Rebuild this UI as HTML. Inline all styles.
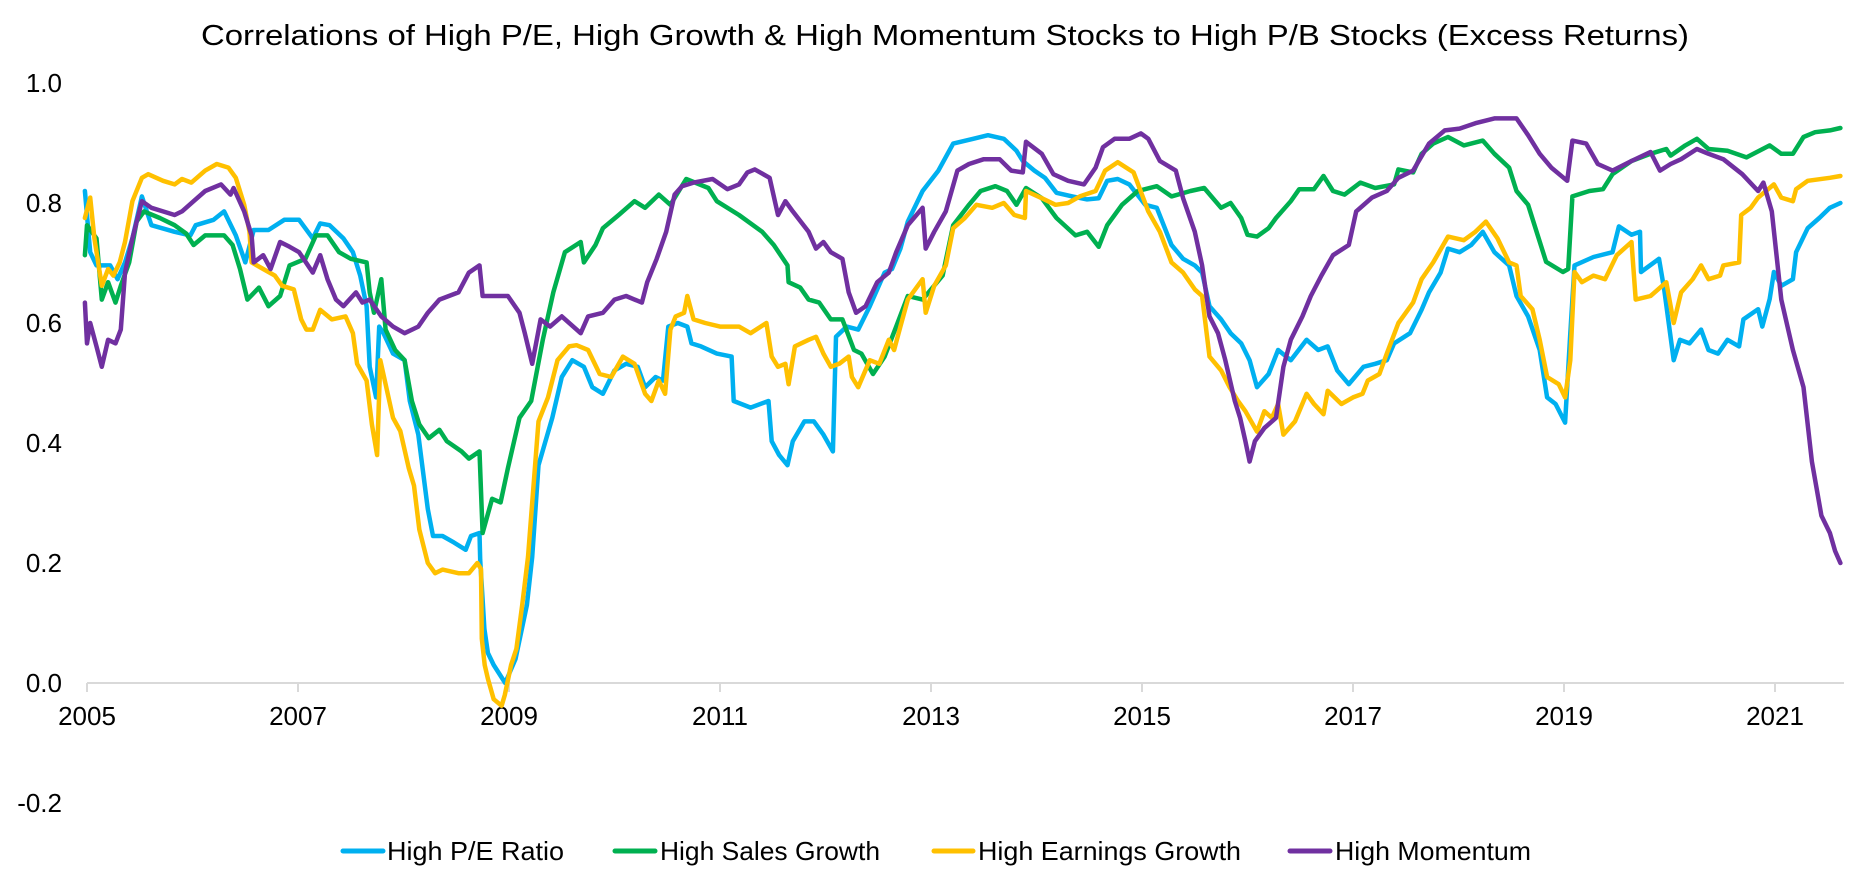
<!DOCTYPE html>
<html>
<head>
<meta charset="utf-8">
<style>
  html,body{margin:0;padding:0;background:#fff;}
  #chart{display:block;}
  text{font-family:"Liberation Sans",Arial,sans-serif;fill:#000;}
</style>
</head>
<body>
<svg id="chart" width="1867" height="886" viewBox="0 0 1867 886" xmlns="http://www.w3.org/2000/svg">
  <rect x="0" y="0" width="1867" height="886" fill="#fff"/>
  <text x="945" y="45" font-size="29" text-anchor="middle" textLength="1488" lengthAdjust="spacingAndGlyphs">Correlations of High P/E, High Growth &amp; High Momentum Stocks to High P/B Stocks (Excess Returns)</text>
  <g id="yaxis"></g>
  <g id="xaxis"></g>
  <g id="series"></g>
  <g id="legend">
    <line x1="343" y1="851" x2="383" y2="851" stroke="#00b0f0" stroke-width="5" stroke-linecap="round"/>
    <text x="387" y="860" font-size="26" textLength="177" lengthAdjust="spacingAndGlyphs">High P/E Ratio</text>
    <line x1="615" y1="851" x2="655" y2="851" stroke="#00b050" stroke-width="5" stroke-linecap="round"/>
    <text x="660" y="860" font-size="26" textLength="220" lengthAdjust="spacingAndGlyphs">High Sales Growth</text>
    <line x1="934" y1="851" x2="973" y2="851" stroke="#ffc000" stroke-width="5" stroke-linecap="round"/>
    <text x="978" y="860" font-size="26" textLength="263" lengthAdjust="spacingAndGlyphs">High Earnings Growth</text>
    <line x1="1290" y1="851" x2="1330" y2="851" stroke="#7030a0" stroke-width="5" stroke-linecap="round"/>
    <text x="1335" y="860" font-size="26" textLength="196" lengthAdjust="spacingAndGlyphs">High Momentum</text>
  </g>
</svg>
<script>
const yTicks = [-0.2, 0.0, 0.2, 0.4, 0.6, 0.8, 1.0];
const yTickLabels = ["-0.2", "0.0", "0.2", "0.4", "0.6", "0.8", "1.0"];
const xTicks = [2005, 2007, 2009, 2011, 2013, 2015, 2017, 2019, 2021];
const xTickLabels = ["2005", "2007", "2009", "2011", "2013", "2015", "2017", "2019", "2021"];

const peT = [2004.98,2005.03,2005.09,2005.22,2005.29,2005.36,2005.43,2005.52,2005.61,2005.83,2005.98,2006.03,2006.20,2006.30,2006.41,2006.50,2006.58,2006.72,2006.87,2007.01,2007.14,2007.21,2007.30,2007.43,2007.52,2007.59,2007.65,2007.68,2007.74,2007.77,2007.81,2007.90,2008.01,2008.06,2008.14,2008.23,2008.28,2008.37,2008.48,2008.59,2008.64,2008.72,2008.727,2008.767,2008.80,2008.855,2008.964,2009.062,2009.17,2009.22,2009.28,2009.41,2009.50,2009.60,2009.71,2009.79,2009.89,2010.00,2010.11,2010.22,2010.29,2010.39,2010.46,2010.51,2010.60,2010.69,2010.73,2010.82,2010.97,2011.11,2011.13,2011.29,2011.46,2011.49,2011.56,2011.64,2011.69,2011.80,2011.89,2011.98,2012.07,2012.10,2012.20,2012.31,2012.42,2012.56,2012.63,2012.71,2012.78,2012.92,2013.07,2013.21,2013.40,2013.54,2013.69,2013.81,2013.87,2013.98,2014.08,2014.19,2014.34,2014.48,2014.59,2014.67,2014.77,2014.88,2015.03,2015.14,2015.28,2015.39,2015.50,2015.57,2015.64,2015.75,2015.84,2015.94,2016.02,2016.09,2016.20,2016.29,2016.41,2016.56,2016.67,2016.76,2016.85,2016.96,2017.10,2017.21,2017.32,2017.39,2017.54,2017.65,2017.72,2017.83,2017.90,2018.01,2018.12,2018.23,2018.34,2018.48,2018.55,2018.66,2018.77,2018.84,2018.92,2019.01,2019.06,2019.10,2019.28,2019.46,2019.52,2019.64,2019.72,2019.73,2019.90,2019.95,2020.04,2020.10,2020.19,2020.30,2020.37,2020.46,2020.55,2020.66,2020.70,2020.84,2020.88,2020.95,2020.99,2021.06,2021.17,2021.20,2021.31,2021.42,2021.52,2021.62];
const peV = [0.82,0.718,0.696,0.696,0.673,0.701,0.741,0.811,0.763,0.752,0.746,0.763,0.772,0.786,0.746,0.701,0.755,0.755,0.772,0.772,0.741,0.766,0.763,0.741,0.718,0.679,0.628,0.527,0.476,0.594,0.583,0.549,0.538,0.470,0.414,0.290,0.245,0.245,0.234,0.222,0.245,0.250,0.205,0.09,0.05,0.03,0.0,0.04,0.13,0.21,0.363,0.442,0.510,0.538,0.527,0.493,0.482,0.521,0.532,0.527,0.493,0.510,0.504,0.594,0.600,0.594,0.566,0.561,0.549,0.544,0.470,0.459,0.470,0.403,0.380,0.363,0.403,0.436,0.436,0.414,0.386,0.577,0.594,0.589,0.628,0.684,0.690,0.724,0.769,0.820,0.854,0.899,0.907,0.913,0.907,0.887,0.870,0.854,0.842,0.817,0.811,0.806,0.808,0.837,0.840,0.831,0.797,0.792,0.730,0.707,0.696,0.684,0.628,0.606,0.583,0.566,0.538,0.493,0.515,0.555,0.538,0.572,0.555,0.561,0.521,0.498,0.527,0.532,0.538,0.566,0.583,0.622,0.651,0.684,0.724,0.718,0.730,0.752,0.718,0.696,0.645,0.611,0.555,0.476,0.465,0.434,0.583,0.696,0.710,0.718,0.761,0.747,0.752,0.685,0.707,0.656,0.538,0.572,0.566,0.589,0.555,0.549,0.572,0.561,0.606,0.623,0.594,0.640,0.685,0.662,0.673,0.718,0.758,0.775,0.792,0.80];

const salesT = [2004.98,2005.00,2005.09,2005.14,2005.20,2005.27,2005.32,2005.40,2005.47,2005.54,2005.69,2005.83,2005.94,2006.01,2006.12,2006.30,2006.38,2006.45,2006.52,2006.63,2006.72,2006.83,2006.92,2007.07,2007.17,2007.28,2007.39,2007.50,2007.65,2007.68,2007.72,2007.79,2007.83,2007.92,2008.01,2008.08,2008.15,2008.24,2008.34,2008.41,2008.55,2008.62,2008.72,2008.75,2008.84,2008.92,2008.99,2009.10,2009.21,2009.32,2009.42,2009.53,2009.68,2009.71,2009.82,2009.89,2010.04,2010.19,2010.29,2010.42,2010.53,2010.68,2010.89,2010.97,2011.18,2011.40,2011.51,2011.64,2011.65,2011.76,2011.84,2011.94,2012.05,2012.16,2012.27,2012.34,2012.45,2012.56,2012.67,2012.78,2012.92,2013.11,2013.21,2013.36,2013.47,2013.61,2013.72,2013.81,2013.90,2014.05,2014.19,2014.37,2014.48,2014.59,2014.67,2014.81,2014.96,2015.14,2015.28,2015.46,2015.59,2015.75,2015.84,2015.94,2016.00,2016.09,2016.20,2016.27,2016.41,2016.49,2016.63,2016.72,2016.81,2016.92,2017.07,2017.21,2017.39,2017.43,2017.57,2017.65,2017.76,2017.90,2018.05,2018.23,2018.34,2018.48,2018.55,2018.66,2018.74,2018.83,2018.99,2019.04,2019.08,2019.24,2019.37,2019.46,2019.64,2019.82,2019.97,2020.01,2020.15,2020.26,2020.37,2020.55,2020.73,2020.95,2021.06,2021.17,2021.27,2021.38,2021.52,2021.62];
const salesV = [0.713,0.763,0.741,0.639,0.668,0.634,0.662,0.701,0.769,0.786,0.775,0.763,0.749,0.730,0.746,0.746,0.730,0.690,0.639,0.659,0.628,0.645,0.696,0.707,0.746,0.746,0.718,0.707,0.701,0.651,0.617,0.673,0.589,0.555,0.538,0.470,0.431,0.408,0.422,0.403,0.386,0.374,0.386,0.250,0.307,0.301,0.358,0.442,0.470,0.572,0.651,0.718,0.735,0.701,0.730,0.758,0.780,0.803,0.792,0.814,0.797,0.840,0.825,0.803,0.780,0.752,0.730,0.696,0.668,0.659,0.639,0.634,0.606,0.606,0.555,0.549,0.515,0.544,0.594,0.645,0.639,0.679,0.763,0.797,0.820,0.828,0.820,0.797,0.825,0.808,0.775,0.746,0.752,0.727,0.763,0.797,0.820,0.828,0.811,0.820,0.825,0.792,0.800,0.775,0.747,0.744,0.758,0.775,0.803,0.823,0.823,0.845,0.820,0.814,0.834,0.825,0.831,0.856,0.851,0.882,0.899,0.910,0.896,0.904,0.882,0.859,0.820,0.797,0.752,0.702,0.685,0.690,0.811,0.820,0.823,0.848,0.870,0.882,0.890,0.879,0.896,0.907,0.890,0.887,0.876,0.896,0.882,0.882,0.910,0.918,0.921,0.925];

const earnT = [2004.98,2005.03,2005.07,2005.14,2005.20,2005.25,2005.31,2005.36,2005.43,2005.52,2005.58,2005.72,2005.83,2005.90,2005.99,2006.12,2006.23,2006.34,2006.41,2006.49,2006.54,2006.56,2006.67,2006.78,2006.85,2006.96,2007.03,2007.08,2007.14,2007.21,2007.32,2007.45,2007.52,2007.56,2007.65,2007.70,2007.75,2007.78,2007.83,2007.90,2007.97,2008.05,2008.10,2008.15,2008.23,2008.30,2008.37,2008.52,2008.62,2008.70,2008.735,2008.742,2008.77,2008.80,2008.855,2008.93,2008.96,2009.02,2009.07,2009.125,2009.18,2009.28,2009.37,2009.46,2009.57,2009.64,2009.75,2009.86,2009.97,2010.08,2010.19,2010.29,2010.35,2010.42,2010.48,2010.53,2010.58,2010.66,2010.69,2010.75,2010.86,2011.00,2011.18,2011.29,2011.44,2011.49,2011.55,2011.62,2011.65,2011.71,2011.84,2011.91,2011.98,2012.05,2012.13,2012.22,2012.25,2012.31,2012.42,2012.51,2012.60,2012.65,2012.71,2012.78,2012.92,2012.95,2013.03,2013.14,2013.21,2013.32,2013.43,2013.58,2013.69,2013.79,2013.89,2013.90,2014.05,2014.18,2014.30,2014.41,2014.56,2014.59,2014.65,2014.77,2014.92,2015.06,2015.17,2015.28,2015.39,2015.50,2015.57,2015.64,2015.75,2015.83,2015.91,2015.98,2016.09,2016.16,2016.23,2016.29,2016.34,2016.45,2016.56,2016.63,2016.72,2016.76,2016.89,2017.00,2017.09,2017.14,2017.25,2017.32,2017.43,2017.57,2017.65,2017.76,2017.90,2018.05,2018.16,2018.26,2018.37,2018.48,2018.55,2018.59,2018.70,2018.77,2018.84,2018.95,2019.01,2019.06,2019.10,2019.17,2019.28,2019.39,2019.50,2019.64,2019.68,2019.82,2019.97,2020.04,2020.11,2020.22,2020.30,2020.37,2020.48,2020.51,2020.66,2020.68,2020.77,2020.84,2020.99,2021.06,2021.17,2021.20,2021.31,2021.52,2021.62];
const earnV = [0.775,0.809,0.741,0.662,0.690,0.679,0.701,0.735,0.803,0.842,0.848,0.837,0.831,0.840,0.834,0.854,0.865,0.859,0.842,0.797,0.752,0.701,0.690,0.679,0.662,0.656,0.606,0.589,0.589,0.622,0.606,0.611,0.583,0.532,0.504,0.431,0.380,0.538,0.498,0.442,0.420,0.358,0.329,0.256,0.200,0.183,0.189,0.183,0.183,0.200,0.190,0.074,0.03,0.007,-0.027,-0.038,-0.02,0.03,0.057,0.13,0.21,0.436,0.476,0.538,0.561,0.563,0.555,0.515,0.510,0.544,0.532,0.482,0.470,0.504,0.482,0.589,0.611,0.617,0.645,0.606,0.600,0.594,0.594,0.583,0.600,0.544,0.527,0.532,0.498,0.561,0.572,0.577,0.549,0.527,0.532,0.544,0.510,0.493,0.538,0.532,0.572,0.555,0.594,0.639,0.673,0.617,0.662,0.696,0.758,0.775,0.797,0.792,0.800,0.780,0.775,0.820,0.808,0.797,0.800,0.811,0.820,0.831,0.854,0.868,0.851,0.786,0.752,0.701,0.684,0.656,0.645,0.544,0.521,0.493,0.470,0.453,0.419,0.453,0.442,0.465,0.414,0.436,0.482,0.465,0.448,0.487,0.465,0.476,0.482,0.504,0.515,0.549,0.600,0.634,0.673,0.701,0.744,0.738,0.752,0.769,0.741,0.701,0.696,0.645,0.623,0.572,0.510,0.498,0.476,0.538,0.685,0.668,0.679,0.673,0.713,0.735,0.639,0.645,0.668,0.600,0.651,0.673,0.696,0.673,0.679,0.696,0.701,0.780,0.792,0.809,0.831,0.809,0.803,0.823,0.837,0.842,0.845];

const momT = [2004.98,2005.00,2005.03,2005.09,2005.14,2005.20,2005.27,2005.32,2005.36,2005.43,2005.52,2005.61,2005.72,2005.83,2005.90,2006.01,2006.12,2006.27,2006.36,2006.39,2006.49,2006.56,2006.58,2006.67,2006.74,2006.83,2006.92,2007.01,2007.14,2007.21,2007.28,2007.36,2007.43,2007.55,2007.61,2007.68,2007.79,2007.90,2008.01,2008.14,2008.23,2008.34,2008.52,2008.62,2008.72,2008.75,2008.88,2008.99,2009.10,2009.15,2009.22,2009.30,2009.39,2009.50,2009.68,2009.75,2009.89,2010.00,2010.11,2010.26,2010.31,2010.40,2010.49,2010.57,2010.64,2010.75,2010.93,2011.07,2011.18,2011.26,2011.33,2011.47,2011.55,2011.62,2011.69,2011.84,2011.91,2011.98,2012.05,2012.16,2012.22,2012.29,2012.38,2012.49,2012.60,2012.67,2012.78,2012.92,2012.95,2013.03,2013.14,2013.25,2013.36,2013.50,2013.65,2013.76,2013.87,2013.90,2014.05,2014.16,2014.30,2014.45,2014.56,2014.63,2014.74,2014.88,2014.99,2015.06,2015.17,2015.32,2015.39,2015.50,2015.57,2015.64,2015.72,2015.79,2015.88,2015.93,2015.98,2016.02,2016.07,2016.16,2016.27,2016.34,2016.41,2016.52,2016.60,2016.70,2016.81,2016.96,2017.03,2017.18,2017.32,2017.43,2017.57,2017.72,2017.87,2018.01,2018.16,2018.34,2018.55,2018.66,2018.77,2018.88,2019.03,2019.08,2019.21,2019.32,2019.46,2019.64,2019.82,2019.91,2020.01,2020.11,2020.26,2020.37,2020.51,2020.69,2020.84,2020.89,2020.97,2021.06,2021.17,2021.27,2021.35,2021.44,2021.52,2021.57,2021.62];
const momV = [0.634,0.566,0.600,0.561,0.527,0.572,0.566,0.589,0.684,0.741,0.803,0.792,0.786,0.780,0.786,0.803,0.820,0.831,0.814,0.825,0.786,0.746,0.701,0.713,0.690,0.735,0.727,0.718,0.684,0.713,0.673,0.639,0.628,0.651,0.634,0.639,0.611,0.594,0.583,0.594,0.617,0.639,0.651,0.684,0.696,0.645,0.645,0.645,0.617,0.583,0.532,0.606,0.594,0.611,0.583,0.611,0.617,0.639,0.645,0.634,0.668,0.707,0.752,0.814,0.828,0.834,0.840,0.823,0.831,0.851,0.856,0.842,0.780,0.803,0.786,0.752,0.724,0.735,0.718,0.707,0.651,0.617,0.628,0.668,0.684,0.718,0.763,0.792,0.724,0.752,0.786,0.854,0.865,0.873,0.873,0.854,0.851,0.902,0.882,0.848,0.837,0.831,0.859,0.893,0.907,0.907,0.916,0.907,0.870,0.854,0.808,0.752,0.696,0.611,0.583,0.538,0.470,0.442,0.403,0.369,0.403,0.425,0.442,0.527,0.572,0.611,0.645,0.679,0.713,0.730,0.786,0.809,0.820,0.842,0.854,0.899,0.921,0.924,0.933,0.941,0.941,0.913,0.882,0.859,0.837,0.904,0.899,0.865,0.854,0.870,0.885,0.854,0.865,0.873,0.890,0.882,0.873,0.848,0.820,0.834,0.786,0.639,0.555,0.493,0.369,0.279,0.250,0.22,0.20];

const NS = "http://www.w3.org/2000/svg";
const X0 = 87, PX_PER_YEAR = 105.5;
const Y_ZERO = 683, PX_PER_UNIT = 600;
function xScale(t){ return X0 + (t - 2005) * PX_PER_YEAR; }
function yScale(v){ return Y_ZERO - v * PX_PER_UNIT; }
function mk(tag, attrs){ const e = document.createElementNS(NS, tag); for (const k in attrs) e.setAttribute(k, attrs[k]); return e; }

const yaxis = document.getElementById('yaxis');
yTicks.forEach((v, i) => {
  const t = mk('text', {x: 62, y: yScale(v) + 9, 'font-size': 26, 'text-anchor': 'end'});
  
  
  t.textContent = yTickLabels[i];
  yaxis.appendChild(t);
});

const xaxis = document.getElementById('xaxis');
const axisLine = mk('line', {x1: xScale(2005), y1: Y_ZERO, x2: 1844, y2: Y_ZERO, stroke: '#d9d9d9', 'stroke-width': 2});


xaxis.appendChild(axisLine);
xTicks.forEach((yr, i) => {
  const x = xScale(yr);
  const tk = mk('line', {x1: x, y1: Y_ZERO, x2: x, y2: Y_ZERO + 9, stroke: '#d9d9d9', 'stroke-width': 2});
  
  
  xaxis.appendChild(tk);
  const lb = mk('text', {x: x, y: Y_ZERO + 42, 'font-size': 26, 'text-anchor': 'middle'});
  
  
  lb.textContent = xTickLabels[i];
  xaxis.appendChild(lb);
});

const seriesG = document.getElementById('series');
function drawSeries(ts, vs, color, name){
  let d = '';
  ts.forEach((t, i) => { d += (i ? 'L' : 'M') + xScale(t).toFixed(1) + ',' + yScale(vs[i]).toFixed(1); });
  const p = mk('path', {d: d, fill: 'none', stroke: color, 'stroke-width': 4.5, 'stroke-linejoin': 'round', 'stroke-linecap': 'round'});
  
  
  seriesG.appendChild(p);
}
drawSeries(peT, peV, '#00b0f0', 'line-high-pe-ratio');
drawSeries(salesT, salesV, '#00b050', 'line-high-sales-growth');
drawSeries(earnT, earnV, '#ffc000', 'line-high-earnings-growth');
drawSeries(momT, momV, '#7030a0', 'line-high-momentum');
</script>
</body>
</html>
